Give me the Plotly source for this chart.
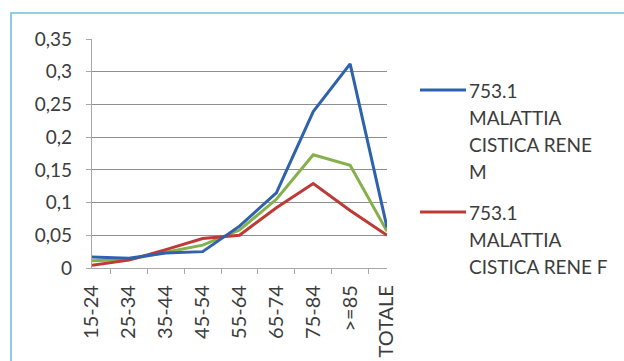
import plotly.graph_objects as go

# Age bands on the category axis
categories = ["15-24", "25-34", "35-44", "45-54", "55-64", "65-74", "75-84", ">=85", "TOTALE"]

# Rates per series
males = [0.017, 0.015, 0.023, 0.025, 0.064, 0.115, 0.239, 0.312, 0.062]
females = [0.004, 0.012, 0.028, 0.045, 0.050, 0.092, 0.129, 0.088, 0.050]
overall = [0.011, 0.013, 0.024, 0.035, 0.058, 0.105, 0.173, 0.157, 0.056]

# Y tick values and their comma-decimal labels
y_ticks = [0, 0.05, 0.1, 0.15, 0.2, 0.25, 0.3, 0.35]
y_labels = ["0", "0,05", "0,1", "0,15", "0,2", "0,25", "0,3", "0,35"]

legend_m = ["753.1", "MALATTIA", "CISTICA RENE", "M"]
legend_f = ["753.1", "MALATTIA", "CISTICA RENE F"]

BLUE = "#2f62ad"
RED = "#bd3b36"
GREEN = "#86b04c"
TEXT = "#3c3c3c"
FONT = "Lato"

W, H = 624, 361
L, R, T, B = 92, 237, 39, 93
PW, PH = W - L - R, H - T - B


def px2x(px):
    return (px - L) / PW


def py2y(py):
    return (H - B - py) / PH


fig = go.Figure()
fig.add_trace(go.Scatter(x=categories, y=overall, mode="lines",
                         line=dict(color=GREEN, width=3), showlegend=False))
fig.add_trace(go.Scatter(x=categories, y=females, mode="lines",
                         line=dict(color=RED, width=3), showlegend=False))
fig.add_trace(go.Scatter(x=categories, y=males, mode="lines",
                         line=dict(color=BLUE, width=3), showlegend=False))

shapes = [
    # outer frame
    dict(type="rect", xref="paper", yref="paper",
         x0=px2x(11), x1=px2x(720), y0=py2y(420), y1=py2y(13),
         line=dict(color="#6fbfdc", width=1.6), layer="below"),
]
annotations = []


def legend_block(color, lines, y_first, step=27):
    shapes.append(dict(type="line", xref="paper", yref="paper",
                       x0=px2x(420), x1=px2x(466), y0=py2y(y_first), y1=py2y(y_first),
                       line=dict(color=color, width=3)))
    for i, txt in enumerate(lines):
        annotations.append(dict(xref="paper", yref="paper", x=px2x(467),
                                y=py2y(y_first + i * step), text=txt, showarrow=False,
                                xanchor="left", yanchor="middle",
                                font=dict(family=FONT, size=19, color=TEXT)))


legend_block(BLUE, legend_m, 90)
legend_block(RED, legend_f, 212)

fig.update_layout(
    width=W, height=H,
    margin=dict(l=L, r=R, t=T, b=B, pad=0),
    paper_bgcolor="white", plot_bgcolor="white",
    font=dict(family=FONT, size=19, color=TEXT),
    shapes=shapes, annotations=annotations,
    xaxis=dict(type="category", tickangle=-90, showgrid=False,
               showline=True, linecolor="#a8a8a8", linewidth=1.2,
               ticks="outside", ticklen=5, tickcolor="#a8a8a8",
               tickson="boundaries", automargin=False, ticklabelstandoff=8,
               tickfont=dict(family=FONT, size=20, color=TEXT)),
    yaxis=dict(range=[0, 0.35], tickvals=y_ticks, ticktext=y_labels,
               showgrid=True, gridcolor="#8e8e8e", gridwidth=1.3,
               showline=True, linecolor="#a8a8a8", linewidth=1.2,
               ticks="outside", ticklen=5, tickcolor="#a8a8a8",
               zeroline=False, automargin=False, ticklabelstandoff=10,
               tickfont=dict(family=FONT, size=19, color=TEXT)),
)

fig.write_html("out.html")
